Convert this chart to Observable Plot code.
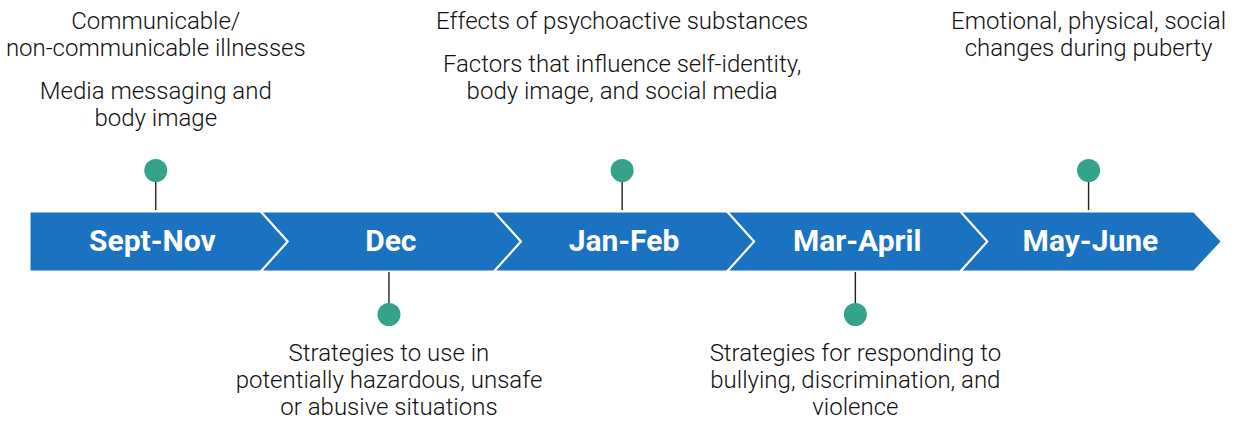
<!DOCTYPE html>
<html>
<head>
<meta charset="utf-8">
<script src="https://cdn.jsdelivr.net/npm/d3@7"></script>
<script src="https://cdn.jsdelivr.net/npm/@observablehq/plot@0.6"></script>
<style>
  html, body { margin: 0; padding: 0; background: #ffffff; }
  #chart svg { display: block; }
</style>
</head>
<body>
<div id="chart"></div>
<script>
// ---- data ----
const periods = ["Sept-Nov", "Dec", "Jan-Feb", "Mar-April", "May-June"];
const sides = ["top", "bottom", "top", "bottom", "top"];
const topics = [
  ["Communicable/\nnon-communicable illnesses", "Media messaging and\nbody image"],
  ["Strategies to use in\npotentially hazardous, unsafe\nor abusive situations"],
  ["Effects of psychoactive substances", "Factors that influence self-identity,\nbody image, and social media"],
  ["Strategies for responding to\nbullying, discrimination, and\nviolence"],
  ["Emotional, physical, social\nchanges during puberty"]
];

// ---- layout constants ----
const W = 1240, H = 421;
const bandTop = 212, bandBot = 270, bandMid = (bandTop + bandBot) / 2;
const chevron = 27 / 233;      // chevron depth in segment units
const dotOffset = 0.55;        // dot position within segment
const dotTopY = 170, dotBotY = 314;
const lineH = 27, groupGap = 16;
const topFirst = 21, botFirst = 353;
const blue = "#1a72c1", green = "#35a389";

const n = periods.length;
const bandStart = 0.013;

const band = [
  {x: bandStart, y: bandTop}, {x: n, y: bandTop}, {x: n + chevron, y: bandMid},
  {x: n, y: bandBot}, {x: bandStart, y: bandBot}
];

const chevrons = [];
for (let i = 1; i < n; i++) {
  chevrons.push({k: i, x: i, y: bandTop - 1});
  chevrons.push({k: i, x: i + chevron, y: bandMid});
  chevrons.push({k: i, x: i, y: bandBot + 1});
}

const points = periods.map((p, i) => ({
  label: p,
  side: sides[i],
  x: i + dotOffset,
  xl: i === 0 ? (bandStart + 1 + chevron / 2) / 2 : i + 0.5 + chevron / 2,
  y: sides[i] === "top" ? dotTopY : dotBotY,
  y1: sides[i] === "top" ? dotTopY : bandBot + 2,
  y2: sides[i] === "top" ? bandTop - 2 : dotBotY
}));

const lines = [];
topics.forEach((groups, i) => {
  let k = 0;
  groups.forEach((g, gi) => {
    g.split("\n").forEach(t => {
      const y = sides[i] === "top"
        ? topFirst + k * lineH + gi * groupGap
        : botFirst + k * lineH + gi * groupGap;
      lines.push({text: t, x: i + dotOffset, y});
      k++;
    });
  });
});

const chart = Plot.plot({
  width: W,
  height: H,
  margin: 0,
  x: {domain: [0, n], range: [27, 1193], axis: null},
  y: {domain: [0, H], range: [0, H], axis: null},
  style: {background: "#ffffff"},
  marks: [
    Plot.line(band, {x: "x", y: "y", fill: blue, stroke: "none", curve: "linear-closed"}),
    Plot.line(chevrons, {x: "x", y: "y", z: "k", stroke: "#ffffff", strokeWidth: 2.2}),
    Plot.ruleX(points, {x: "x", y1: "y1", y2: "y2", stroke: "#222222", strokeWidth: 1.4}),
    Plot.dot(points, {x: "x", y: "y", r: 11.5, fill: green, stroke: "none"}),
    Plot.text(points, {
      x: "xl", y: bandMid, text: "label", fill: "#ffffff",
      fontFamily: "Roboto", fontWeight: 700, fontSize: 30, textAnchor: "middle"
    }),
    Plot.text(lines, {
      x: "x", y: "y", text: "text", fill: "#111111",
      fontFamily: "Roboto", fontWeight: 300, fontSize: 24, textAnchor: "middle"
    })
  ]
});

document.getElementById("chart").appendChild(chart);
</script>
</body>
</html>
